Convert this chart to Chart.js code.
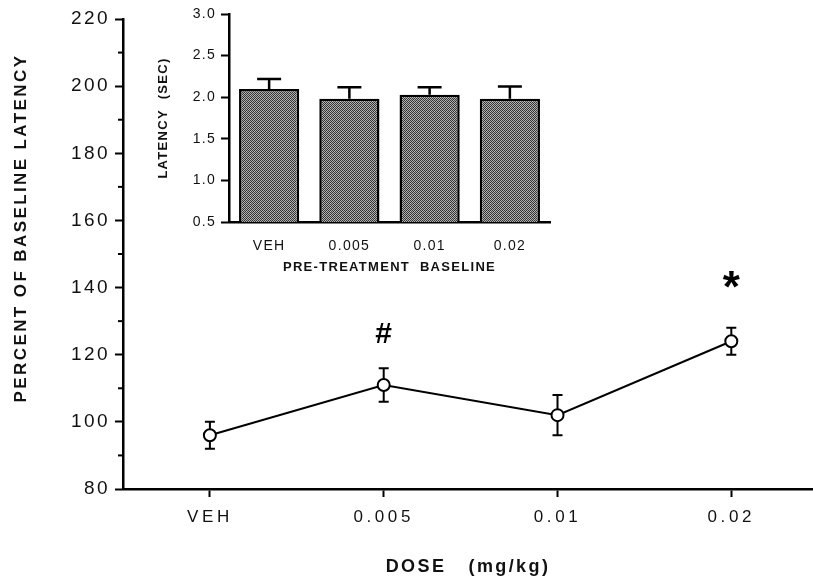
<!DOCTYPE html>
<html>
<head>
<meta charset="utf-8">
<script src="https://cdn.jsdelivr.net/npm/chart.js@4"></script>
<style>
  body { margin: 0; background: #fff; }
  #wrap { position: relative; width: 813px; height: 579px; }
  #main { position: absolute; left: 0; top: 0; }
  #inset { position: absolute; left: 140px; top: 0; }
</style>
</head>
<body>
<div id="wrap">
  <canvas id="main" width="813" height="579"></canvas>
  <canvas id="inset" width="420" height="285"></canvas>
</div>
<script>
// main graph: percent of baseline latency per dose
const doseLabels = ["VEH", "0.005", "0.01", "0.02"];
const pctMean = [96, 111, 102, 124];
const pctSem = [4, 5, 6, 4];
const sigMarks = ["", "#", "", "*"];

// inset: pre-treatment baseline latency (sec)
const baseMean = [2.10, 1.98, 2.03, 1.98];
const baseSem = [0.12, 0.14, 0.09, 0.15];

const fontFam = "'Liberation Sans', Arial, Helvetica, sans-serif";

Chart.defaults.font.family = fontFam;
Chart.defaults.color = "#111";

function spacing(px) {
	return {
		id: "spacing" + px,
		beforeLayout(chart) { chart.ctx.letterSpacing = px + "px"; },
		beforeDraw(chart) { chart.ctx.letterSpacing = px + "px"; },
	};
}

// stippled grey fill for the inset bars
function stipple() {
	const c = document.createElement("canvas");
	c.width = 4;
	c.height = 4;
	const g = c.getContext("2d");
	const shades = [
		["#333333", "#b0b0b0", "#3d3d3d", "#a4a4a4"],
		["#b8b8b8", "#424242", "#aaaaaa", "#2e2e2e"],
		["#383838", "#a6a6a6", "#303030", "#b4b4b4"],
		["#acacac", "#2f2f2f", "#bcbcbc", "#404040"],
	];
	for (let y = 0; y < 4; y++) {
		for (let x = 0; x < 4; x++) {
			g.fillStyle = shades[y][x];
			g.fillRect(x, y, 1, 1);
		}
	}
	return g.createPattern(c, "repeat");
}

const lineErrors = {
	id: "lineErrors",
	beforeDatasetsDraw(chart) {
		const { ctx, scales } = chart;
		ctx.save();
		ctx.strokeStyle = "#000";
		ctx.lineWidth = 2;
		pctMean.forEach((m, i) => {
			const x = scales.x.getPixelForValue(i);
			const top = scales.y.getPixelForValue(m + pctSem[i]);
			const bot = scales.y.getPixelForValue(m - pctSem[i]);
			ctx.beginPath();
			ctx.moveTo(x, top);
			ctx.lineTo(x, bot);
			ctx.moveTo(x - 5, top);
			ctx.lineTo(x + 5, top);
			ctx.moveTo(x - 5, bot);
			ctx.lineTo(x + 5, bot);
			ctx.stroke();
		});
		ctx.restore();
	},
	afterDatasetsDraw(chart) {
		const { ctx, scales } = chart;
		ctx.save();
		ctx.letterSpacing = "0px";
		ctx.fillStyle = "#000";
		ctx.textAlign = "center";
		ctx.textBaseline = "alphabetic";
		sigMarks.forEach((s, i) => {
			if (!s) return;
			const x = scales.x.getPixelForValue(i);
			const top = scales.y.getPixelForValue(pctMean[i] + pctSem[i]);
			if (s === "*") {
				ctx.font = "bold 44px " + fontFam;
				ctx.fillText(s, x, top - 26);
			} else {
				ctx.font = "bold 30px " + fontFam;
				ctx.fillText(s, x, top - 25);
			}
		});
		ctx.restore();
	},
	afterDraw(chart) {
		const { ctx, scales } = chart;
		ctx.save();
		// short unlabeled ticks at the odd tens
		ctx.strokeStyle = "#000";
		ctx.lineWidth = 2;
		for (let v = 90; v < 220; v += 20) {
			const y = scales.y.getPixelForValue(v);
			ctx.beginPath();
			ctx.moveTo(scales.y.right - 5, y);
			ctx.lineTo(scales.y.right, y);
			ctx.stroke();
		}
		// y title sits above the axis middle in the original
		ctx.translate(21, 228);
		ctx.rotate(-Math.PI / 2);
		ctx.letterSpacing = "2.4px";
		ctx.font = "bold 17px " + fontFam;
		ctx.fillStyle = "#111";
		ctx.textAlign = "center";
		ctx.textBaseline = "middle";
		ctx.fillText("PERCENT OF BASELINE LATENCY", 0, 0);
		ctx.restore();
	},
};

const mainChart = new Chart(document.getElementById("main"), {
	type: "line",
	data: {
		datasets: [
			{
				data: pctMean.map((v, i) => ({ x: i, y: v })),
				borderColor: "#000",
				borderWidth: 2,
				tension: 0,
				pointRadius: 6,
				pointBorderWidth: 2,
				pointBackgroundColor: "#fff",
				pointBorderColor: "#000",
			},
		],
	},
	options: {
		responsive: false,
		animation: false,
		layout: { autoPadding: false, padding: { top: 19, right: 0, left: 0, bottom: 0 } },
		plugins: { legend: { display: false }, tooltip: { enabled: false } },
		scales: {
			x: {
				type: "linear",
				min: -0.5,
				max: 3.47,
				afterBuildTicks: (s) => { s.ticks = doseLabels.map((l, i) => ({ value: i })); },
				afterFit: (s) => { s.height = 90; },
				border: { color: "#000", width: 2.5 },
				grid: { drawOnChartArea: false, tickLength: 8, tickColor: "#000", tickWidth: 2 },
				ticks: {
					padding: 10,
					maxRotation: 0,
					color: "#111",
					font: { size: 17 },
					callback: (v) => doseLabels[v],
				},
				title: {
					display: true,
					text: "DOSE   (mg/kg)",
					color: "#111",
					font: { size: 18, weight: "bold" },
					padding: { top: 0, bottom: 1 },
				},
			},
			y: {
				min: 80,
				max: 220,
				afterFit: (s) => { s.width = 123; },
				border: { color: "#000", width: 2.5 },
				grid: {
					drawOnChartArea: false,
					tickLength: 8,
					tickWidth: 2,
					tickColor: (c) => (c.tick && c.tick.value % 20 === 0 ? "#000" : "rgba(0,0,0,0)"),
				},
				ticks: {
					stepSize: 10,
					padding: 5,
					color: "#111",
					font: { size: 19 },
					callback: (v) => (v % 20 === 0 ? v : ""),
				},
			},
		},
	},
	plugins: [spacing(2.4), lineErrors],
});

// dose labels on the main x axis are spaced out wider
const xScale = mainChart.scales.x;
const drawXLabels = xScale.drawLabels;
xScale.drawLabels = function (area) {
	this.ctx.letterSpacing = "3.6px";
	drawXLabels.call(this, area);
	this.ctx.letterSpacing = "2.4px";
};
mainChart.draw();

const barErrors = {
	id: "barErrors",
	afterDatasetsDraw(chart) {
		const { ctx, scales } = chart;
		ctx.save();
		ctx.strokeStyle = "#000";
		ctx.lineWidth = 2.5;
		baseMean.forEach((m, i) => {
			const x = scales.x.getPixelForValue(i);
			const bot = scales.y.getPixelForValue(m);
			const top = scales.y.getPixelForValue(m + baseSem[i]);
			ctx.beginPath();
			ctx.moveTo(x, bot);
			ctx.lineTo(x, top);
			ctx.moveTo(x - 12, top);
			ctx.lineTo(x + 12, top);
			ctx.stroke();
		});
		ctx.restore();
	},
};

const insetChart = new Chart(document.getElementById("inset"), {
	type: "bar",
	data: {
		labels: doseLabels,
		datasets: [
			{
				data: baseMean,
				backgroundColor: stipple(),
				borderColor: "#000",
				borderWidth: 2.5,
				borderSkipped: false,
				categoryPercentage: 1,
				barPercentage: 0.75,
			},
		],
	},
	options: {
		responsive: false,
		animation: false,
		layout: { padding: { top: 14, right: 10, left: 0, bottom: 0 } },
		plugins: { legend: { display: false }, tooltip: { enabled: false } },
		scales: {
			x: {
				afterFit: (s) => { s.height = 63; },
				border: { color: "#000", width: 2.5 },
				grid: { drawOnChartArea: false, drawTicks: false },
				ticks: { padding: 16, color: "#111", font: { size: 14 } },
				title: {
					display: true,
					text: "PRE-TREATMENT  BASELINE",
					color: "#111",
					font: { size: 13, weight: "bold" },
					padding: { top: 0, bottom: 10 },
				},
			},
			y: {
				min: 0.5,
				max: 3.0,
				afterFit: (s) => { s.width = 89; },
				border: { color: "#000", width: 2.5 },
				grid: { drawOnChartArea: false, tickLength: 8, tickWidth: 2, tickColor: "#000" },
				ticks: {
					stepSize: 0.5,
					padding: 5,
					color: "#111",
					font: { size: 14 },
					callback: (v) => v.toFixed(1),
				},
				title: {
					display: true,
					text: "LATENCY  (SEC)",
					color: "#111",
					font: { size: 13, weight: "bold" },
					padding: { top: 16, bottom: 0 },
				},
			},
		},
	},
	plugins: [spacing(1.3), barErrors],
});
</script>
</body>
</html>
